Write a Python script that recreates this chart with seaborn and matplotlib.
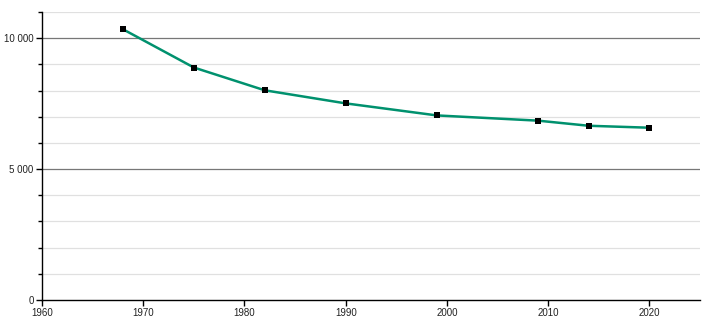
import matplotlib
matplotlib.use("Agg")
import matplotlib.pyplot as plt
import seaborn as sns
import pandas as pd
from matplotlib.ticker import MultipleLocator, FuncFormatter

years = [1968, 1975, 1982, 1990, 1999, 2009, 2014, 2020]
population = [10340, 8880, 8010, 7510, 7050, 6850, 6655, 6580]

df = pd.DataFrame({"year": years, "population": population})

sns.set_style("white")
plt.rcParams["font.family"] = ["Liberation Sans", "DejaVu Sans"]

fig = plt.figure(figsize=(7.1, 3.2), dpi=100)
ax = fig.add_axes([42 / 710, 20 / 320, 658 / 710, 288 / 320])

ax.set_xlim(1960, 2025)
ax.set_ylim(0, 11000)

# grid
for v in range(1000, 11001, 1000):
    if v % 5000 == 0:
        ax.axhline(v, color="#777777", lw=0.9, zorder=1)
    else:
        ax.axhline(v, color="#e0e0e0", lw=0.9, zorder=1)

sns.lineplot(data=df, x="year", y="population", ax=ax, color="#00916e",
             lw=1.8, zorder=3)
ax.scatter(df["year"], df["population"], marker="s", s=13, color="black",
           zorder=4, linewidths=0)

ax.xaxis.set_major_locator(MultipleLocator(10))
ax.yaxis.set_major_locator(MultipleLocator(5000))
ax.yaxis.set_minor_locator(MultipleLocator(1000))
ax.yaxis.set_major_formatter(FuncFormatter(lambda v, p: f"{int(v):,}".replace(",", " ")))

for s in ["top", "right"]:
    ax.spines[s].set_visible(False)
for s in ["left", "bottom"]:
    ax.spines[s].set_color("black")
    ax.spines[s].set_linewidth(1.0)

ax.tick_params(axis="both", which="major", direction="out", length=4, width=1,
               color="black", labelsize=7, labelcolor="#222222", pad=2,
               bottom=True, left=True)
ax.tick_params(axis="y", which="minor", direction="out", length=3, width=1,
               color="black", left=True)
ax.set_xlabel("")
ax.set_ylabel("")

fig.savefig("out.png", dpi=100)
